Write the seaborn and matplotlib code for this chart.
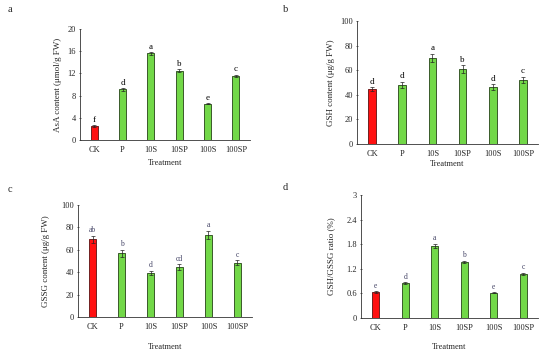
import matplotlib
matplotlib.use("Agg")
import matplotlib.pyplot as plt
import seaborn as sns
import pandas as pd
import numpy as np

treatments = ["CK", "P", "10S", "10SP", "100S", "100SP"]

asa_vals = [2.5, 9.1, 15.6, 12.5, 6.5, 11.6]
asa_err = [0.15, 0.2, 0.25, 0.25, 0.1, 0.2]
asa_letters = ["f", "d", "a", "b", "e", "c"]

gsh_vals = [44.5, 48.2, 70.0, 61.0, 46.0, 52.0]
gsh_err = [1.5, 2.5, 3.5, 3.0, 2.5, 2.5]
gsh_letters = ["d", "d", "a", "b", "d", "c"]

gssg_vals = [69.5, 57.0, 39.5, 44.5, 73.5, 48.5]
gssg_err = [3.0, 3.0, 2.0, 2.5, 3.5, 2.5]
gssg_letters = ["ab", "b", "d", "cd", "a", "c"]

ratio_vals = [0.63, 0.85, 1.76, 1.37, 0.62, 1.07]
ratio_err = [0.02, 0.02, 0.05, 0.03, 0.01, 0.03]
ratio_letters = ["e", "d", "a", "b", "e", "c"]

sns.set_style("white")
plt.rcParams["font.family"] = ["Liberation Serif", "DejaVu Serif"]

palette = {t: ("#ff1010" if t == "CK" else "#72d848") for t in treatments}
edges = ["#702020" if t == "CK" else "#3a5a2a" for t in treatments]

fig = plt.figure(figsize=(5.5, 3.51), dpi=100)

W, H = 550, 351
def rect(l, r, t, b):
    return [l / W, 1 - b / H, (r - l) / W, (b - t) / H]

panels = [
    dict(r=rect(80, 250, 29, 140), vals=asa_vals, err=asa_err, letters=asa_letters,
         ylabel="AsA content (μmol/g FW)", yticks=[0, 4, 8, 12, 16, 20], ytl=None,
         lab="a", labxy=(8, 10), xlpad=4, ylpad=4, lcol="black", lsize=6.5),
    dict(r=rect(357, 538, 21, 144), vals=gsh_vals, err=gsh_err, letters=gsh_letters,
         ylabel="GSH content (μg/g FW)", yticks=[0, 20, 40, 60, 80, 100], ytl=None,
         lab="b", labxy=(283, 10), xlpad=2, ylpad=4, lcol="black", lsize=6.5),
    dict(r=rect(78, 252, 205, 317), vals=gssg_vals, err=gssg_err, letters=gssg_letters,
         ylabel="GSSG content (μg/g FW)", yticks=[0, 20, 40, 60, 80, 100], ytl=None,
         lab="c", labxy=(8, 190), xlpad=9, ylpad=8, lcol="#444466", lsize=5.5),
    dict(r=rect(361, 538, 195, 318), vals=ratio_vals, err=ratio_err, letters=ratio_letters,
         ylabel="GSH/GSSG ratio (%)", yticks=[0, 0.6, 1.2, 1.8, 2.4, 3.0],
         ytl=["0", "0.6", "1.2", "1.8", "2.4", "3"],
         lab="d", labxy=(283, 188), xlpad=8, ylpad=8, lcol="#444466", lsize=5.5),
]

for p in panels:
    ax = fig.add_axes(p["r"])
    df = pd.DataFrame({"Treatment": treatments, "Value": p["vals"]})
    sns.barplot(data=df, x="Treatment", y="Value", hue="Treatment", palette=palette,
                width=0.25, linewidth=0.7, legend=False, ax=ax, order=treatments,
                saturation=1)
    for patch, ec in zip(ax.patches, edges):
        patch.set_edgecolor(ec)
    ax.errorbar(np.arange(len(treatments)), p["vals"], yerr=p["err"], fmt="none",
                ecolor="#222222", elinewidth=0.5, capsize=1.5, capthick=0.5)
    ymax = p["yticks"][-1]
    for i, (v, e, l) in enumerate(zip(p["vals"], p["err"], p["letters"])):
        ax.text(i, v + e + ymax * 0.012, l, ha="center", va="bottom",
                fontsize=p["lsize"], color=p["lcol"])
    ax.set_xlim(-0.5, 5.5)
    ax.set_ylim(0, ymax)
    ax.set_yticks(p["yticks"])
    if p["ytl"]:
        ax.set_yticklabels(p["ytl"])
    ax.set_xticks(np.arange(len(treatments)))
    ax.set_xticklabels(treatments)
    ax.set_xticks(np.arange(len(treatments)) + 0.5, minor=True)
    ax.tick_params(axis="x", which="major", length=0, labelsize=6, pad=4)
    ax.tick_params(axis="x", which="minor", length=2, width=0.5, direction="in")
    ax.tick_params(axis="y", which="major", length=2, width=0.5, direction="inout",
                   labelsize=6, pad=2, left=True)
    ax.set_xlabel("Treatment", fontsize=6, labelpad=p["xlpad"])
    ax.set_ylabel(p["ylabel"], fontsize=6.5, labelpad=p["ylpad"])
    for s in ["top", "right"]:
        ax.spines[s].set_visible(False)
    for s in ["left", "bottom"]:
        ax.spines[s].set_linewidth(0.6)
        ax.spines[s].set_color("#333333")
    fig.text(p["labxy"][0] / W, 1 - p["labxy"][1] / H, p["lab"], fontsize=7.5,
             ha="left", va="center")

fig.savefig("out.png", dpi=100)
